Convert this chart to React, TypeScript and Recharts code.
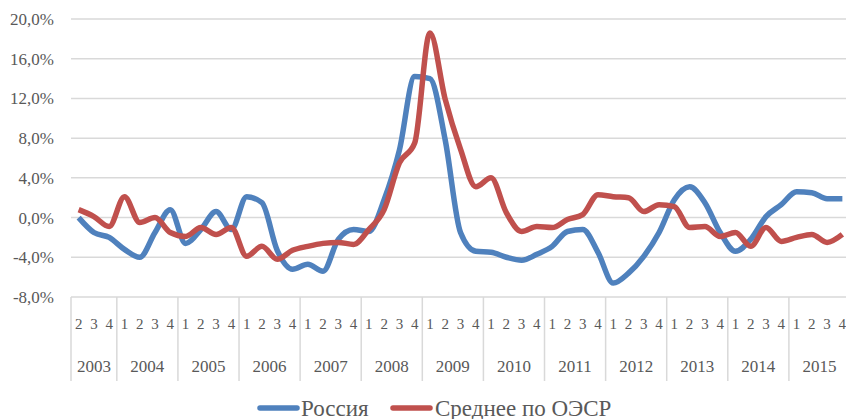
import React from "react";
import { LineChart, Line, XAxis, YAxis, CartesianGrid, Legend } from "recharts";

const yearLabels = ["2003", "2004", "2005", "2006", "2007", "2008", "2009", "2010", "2011", "2012", "2013", "2014", "2015"];
const quarterLabels = [
  "2", "3", "4",
  "1", "2", "3", "4", "1", "2", "3", "4", "1", "2", "3", "4", "1", "2", "3", "4",
  "1", "2", "3", "4", "1", "2", "3", "4", "1", "2", "3", "4", "1", "2", "3", "4",
  "1", "2", "3", "4", "1", "2", "3", "4", "1", "2", "3", "4", "1", "2", "3", "4",
];
const quarterYears = [
  "2003", "2003", "2003",
  "2004", "2004", "2004", "2004", "2005", "2005", "2005", "2005", "2006", "2006", "2006", "2006",
  "2007", "2007", "2007", "2007", "2008", "2008", "2008", "2008", "2009", "2009", "2009", "2009",
  "2010", "2010", "2010", "2010", "2011", "2011", "2011", "2011", "2012", "2012", "2012", "2012",
  "2013", "2013", "2013", "2013", "2014", "2014", "2014", "2014", "2015", "2015", "2015", "2015",
];
const russia = [
  0.0, -1.5, -2.0, -3.2, -4.0, -1.5, 0.8, -2.6, -1.2, 0.6, -1.2, 2.1, 1.5, -3.3, -5.2, -4.7, -5.4,
  -2.2, -1.2, -1.4, 1.8, 6.8, 14.2, 14.0, 7.8, -1.5, -3.4, -3.5, -4.0, -4.3, -3.7, -2.9, -1.4, -1.2,
  -3.5, -6.6, -5.6, -3.9, -1.5, 1.8, 3.1, 1.5, -1.5, -3.4, -2.2, 0.1, 1.3, 2.6, 2.5, 1.9, 1.9,
];
const oecd = [
  0.8, 0.1, -0.9, 2.1, -0.5, 0.0, -1.5, -1.9, -1.0, -1.7, -1.0, -3.9, -2.9, -4.2, -3.3, -2.9, -2.6,
  -2.5, -2.7, -1.2, 0.8, 5.5, 7.5, 18.6, 11.9, 6.9, 3.1, 4.0, 0.5, -1.4, -0.9, -1.0, -0.2, 0.3,
  2.3, 2.1, 2.0, 0.6, 1.3, 1.1, -1.0, -0.9, -1.9, -1.5, -2.9, -1.0, -2.4, -2.0, -1.7, -2.5, -1.7,
];
const yTicks = [-8, -4, 0, 4, 8, 12, 16, 20];
const seriesNames = ["Россия", "Среднее по ОЭСР"];
const seriesColors = ["#4F81BD", "#C0504D"];

const data = quarterLabels.map((q, i) => ({
  q,
  year: quarterYears[i],
  russia: russia[i],
  oecd: oecd[i],
}));

const CHART_W = 850;
const CHART_H = 419;
const LEFT = 71;
const TOP = 19;
const PLOT_BOTTOM = 297;
const BAND = (CHART_W - LEFT) / data.length;
const FONT = "'Liberation Serif', 'DejaVu Serif', serif";
const TEXT = "#595959";
const GRID = "#d9d9d9";

const fmt = (v: number) => `${v.toFixed(1).replace(".", ",")}%`;

const YTick = (props: any) => {
  const { y, payload } = props;
  return (
    <text x={54} y={y + 6} textAnchor="end" fill={TEXT} fontFamily={FONT} fontSize={17}>
      {fmt(payload.value)}
    </text>
  );
};

const QuarterTick = (props: any) => {
  const { x, payload } = props;
  return (
    <text x={x} y={PLOT_BOTTOM + 32} textAnchor="middle" fill={TEXT} fontFamily={FONT} fontSize={15}>
      {payload.value}
    </text>
  );
};

const YearTick = (props: any) => {
  const { x, index } = props;
  const yr = quarterYears[index];
  if (index > 0 && quarterYears[index - 1] === yr) return <g />;
  const count = quarterYears.filter((y) => y === yr).length;
  const left = x - BAND / 2;
  const center = left + (count * BAND) / 2;
  return (
    <g>
      <line x1={left} x2={left} y1={PLOT_BOTTOM} y2={381} stroke={GRID} strokeWidth={1.5} />
      <text x={center} y={372} textAnchor="middle" fill={TEXT} fontFamily={FONT} fontSize={17}>
        {yr}
      </text>
    </g>
  );
};

const LegendContent = () => {
  const items = [
    { lineX: 257, textX: 301, name: seriesNames[0], color: seriesColors[0] },
    { lineX: 390, textX: 435, name: seriesNames[1], color: seriesColors[1] },
  ];
  return (
    <div style={{ position: "relative", width: 846, height: 38 }}>
      <svg width={846} height={38} style={{ position: "absolute", left: 0, top: 0, overflow: "visible" }}>
        {items.map((it) => (
          <g key={it.name}>
            <line x1={it.lineX + 3} x2={it.lineX + 40} y1={27} y2={27} stroke={it.color} strokeWidth={5.5} strokeLinecap="round" />
            <text x={it.textX} y={34.5} fill={TEXT} fontFamily={FONT} fontSize={23}>
              {it.name}
            </text>
          </g>
        ))}
      </svg>
    </div>
  );
};

export default function App() {
  return (
    <div style={{ position: "absolute", left: 0, top: 0, width: 846, height: 419, overflow: "hidden", background: "#fff", fontFamily: FONT }}>
      <LineChart width={CHART_W} height={CHART_H} data={data} margin={{ top: TOP, right: 0, left: 0, bottom: 0 }}>
        <CartesianGrid vertical={false} stroke={GRID} strokeWidth={1.5} />
        <XAxis
          dataKey="q"
          xAxisId="q"
          interval={0}
          padding={{ left: BAND / 2, right: BAND / 2 }}
          tickLine={false}
          axisLine={false}
          height={43}
          tick={<QuarterTick />}
        />
        <XAxis
          dataKey="year"
          xAxisId="year"
          interval={0}
          padding={{ left: BAND / 2, right: BAND / 2 }}
          tickLine={false}
          axisLine={false}
          height={41}
          tick={<YearTick />}
        />
        <YAxis
          domain={[-8, 20]}
          ticks={yTicks}
          width={LEFT}
          tickLine={false}
          axisLine={false}
          tick={<YTick />}
        />
        <Legend verticalAlign="bottom" height={38} content={<LegendContent />} />
        <Line
          xAxisId="q"
          type="monotone"
          dataKey="russia"
          name={seriesNames[0]}
          stroke={seriesColors[0]}
          strokeWidth={5.5}
          dot={false}
          isAnimationActive={false}
        />
        <Line
          xAxisId="q"
          type="monotone"
          dataKey="oecd"
          name={seriesNames[1]}
          stroke={seriesColors[1]}
          strokeWidth={5.5}
          dot={false}
          isAnimationActive={false}
        />
      </LineChart>
    </div>
  );
}
